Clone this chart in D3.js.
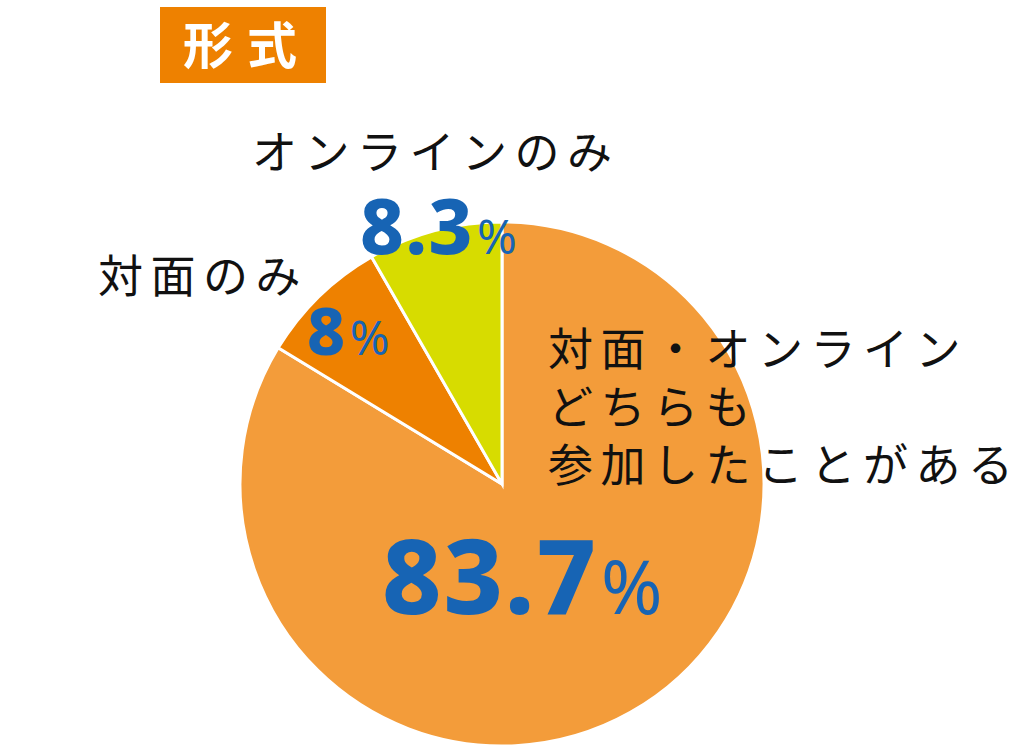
<!DOCTYPE html>
<html><head><meta charset="utf-8">
<script src="https://cdn.jsdelivr.net/npm/d3@7"></script>
<style>body{margin:0;background:#fff}</style>
</head><body>
<svg id="c" width="1024" height="751"></svg>
<script>
const title = "形式";
const categories = ["対面・オンラインどちらも参加したことがある", "対面のみ", "オンラインのみ"];
const values = [83.7, 8, 8.3];
const valueLabels = ["83.7", "8", "8.3"];
const colors = ["#F39C3A", "#EE8100", "#D7DC00"];

const svg = d3.select("#c");
const cx = 502, cy = 484, r = 262;
const jp = "'Noto Sans CJK JP','Noto Sans',sans-serif";
const num = "'Noto Sans','Open Sans',sans-serif";

// title box
svg.append("rect").attr("x",160).attr("y",7).attr("width",166).attr("height",76).attr("fill","#EE8100");
svg.append("text").attr("x",247).attr("y",64).attr("text-anchor","middle")
  .attr("font-family",jp).attr("font-weight",700).attr("font-size",50).attr("letter-spacing",14)
  .attr("fill","#fff").text(title);

const pie = d3.pie().sort(null).value(d=>d)(values);
const arc = d3.arc().innerRadius(0).outerRadius(r);
const g = svg.append("g").attr("transform",`translate(${cx},${cy})`);
g.selectAll("path").data(pie).join("path").attr("d",arc)
  .attr("fill",(d,i)=>colors[i]).attr("stroke","#fff").attr("stroke-width",3);

// category labels
const catLines = [["対面・オンライン","どちらも","参加したことがある"],["対面のみ"],["オンラインのみ"]];
const catPos = [[548,366,58],[98,293,0],[252,169,0]];
catLines.forEach((lines,i)=>{
  lines.forEach((l,j)=>svg.append("text").attr("font-family",jp).attr("font-size",45).attr("font-weight",400)
    .attr("letter-spacing",7.5).attr("fill","#111")
    .attr("x",catPos[i][0]).attr("y",catPos[i][1]+j*catPos[i][2]).text(l));
});

// value labels
const valPos = [[382,614,103,74,2],[307,355,66,48,1.5],[360,254,76,48,1.5]];
valueLabels.forEach((v,i)=>{
  const t = svg.append("text").attr("x",valPos[i][0]).attr("y",valPos[i][1])
    .attr("font-family",num).attr("fill","#1764B4");
  t.append("tspan").attr("font-weight",800).attr("font-size",valPos[i][2]).attr("letter-spacing",valPos[i][4]).text(v);
  t.append("tspan").attr("font-weight",400).attr("font-size",valPos[i][3]).attr("dx",3).text("%");
});
</script>
</body></html>
